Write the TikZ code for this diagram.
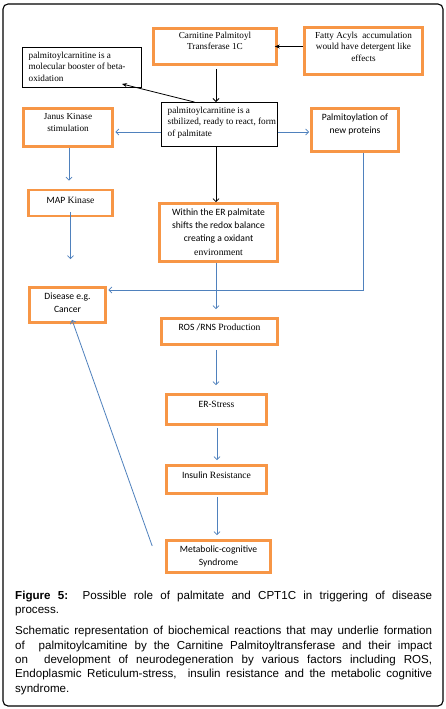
\documentclass[tikz,border=0pt]{standalone}
\usepackage{fontspec}
\setmainfont{Liberation Serif}
\newfontfamily\calibri{Carlito}
\newfontfamily\arialfont{Liberation Sans}
\usepackage{tikz}
\usetikzlibrary{arrows.meta}
\definecolor{boxorange}{HTML}{F79646}
\definecolor{arrowblue}{HTML}{4F81BD}

\begin{document}
\begin{tikzpicture}[x=1pt, y=-1pt,
		obox/.style={draw=boxorange, line width=2.6pt, inner sep=0pt},
		kbox/.style={draw=black, line width=0.9pt, inner sep=0pt},
		sertext/.style={inner sep=0pt, align=center, font=\fontsize{9.2}{11.5}\selectfont},
		caltext/.style={inner sep=0pt, align=center, font=\fontsize{9.6}{13.3}\selectfont\calibri},
		captext/.style={inner sep=0pt, anchor=west, font=\fontsize{11.6}{14.5}\selectfont\arialfont},
		blackarr/.style={black, line width=0.8pt, arrows={-{Stealth[length=5pt, width=4pt]}}},
		blackv/.style={black, line width=0.8pt, arrows={-{Straight Barb[length=3pt, width=6pt]}}},
		bluearr/.style={arrowblue, line width=0.8pt, arrows={-{Straight Barb[length=3pt, width=6pt]}}}]

		\useasboundingbox (0,0) rectangle (446,709);
		\fill[white] (0,0) rectangle (446,709);
		\draw[black, line width=1.1pt, rounded corners=5pt] (3,4) rectangle (443,706);

		%%% Boxes
		\node[obox, minimum width=123, minimum height=36] (cpt) at (215,46.5) {};
		\node[obox, minimum width=118, minimum height=47] (fatty) at (363.5,51) {};
		\node[kbox, minimum width=119, minimum height=40] (booster) at (82,67.5) {};
		\node[kbox, minimum width=116, minimum height=44] (stab) at (219.5,124.5) {};
		\node[obox, minimum width=89, minimum height=38] (janus) at (68,127.5) {};
		\node[obox, minimum width=87, minimum height=43] (palm) at (355,130) {};
		\node[obox, minimum width=84, minimum height=26] (map) at (70.5,203) {};
		\node[obox, minimum width=118, minimum height=58] (er) at (218.5,232.5) {};
		\node[obox, minimum width=76, minimum height=35] (disease) at (67.5,305) {};
		\node[obox, minimum width=116, minimum height=26] (ros) at (219.5,331.5) {};
		\node[obox, minimum width=100, minimum height=30] (ers) at (216.5,409.5) {};
		\node[obox, minimum width=100, minimum height=28] (ins) at (216.5,479.5) {};
		\node[obox, minimum width=104, minimum height=32] (meta) at (218.5,556.5) {};

		%%% Texts
		\node[sertext] (cpttext) at (215,41) {Carnitine Palmitoyl\\Transferase 1C};
		\node[sertext] (fattytext) at (363.5,46.5) {Fatty Acyls\ \ accumulation\\would have detergent like\\effects};
		\node[sertext, anchor=west, align=left] (boostertext) at (28.5,66.5) {palmitoylcarnitine is a\\molecular booster of beta-\\oxidation};
		\node[sertext, anchor=west, align=left] (stabtext) at (167.5,122.5) {palmitoylcarnitine is a\\stbilized, ready to react, form\\of palmitate};
		\node[sertext] (janustext) at (68,122.5) {Janus Kinase\\stimulation};
		\node[caltext] (palmtext) at (355,124.5) {Palmitoylation of\\new proteins};
		\node[caltext] (maptext) at (70.5,200) {MAP {\rmfamily Kinase}};
		\node[caltext] (ertext) at (218.5,232) {Within the ER palmitate\\shifts the redox balance\\creating a oxidant\\{\rmfamily environment}};
		\node[caltext] (diseasetext) at (67.5,303) {Disease e.g.\\Cancer};
		\node[caltext] (rostext) at (219.5,327) {ROS /RNS {\rmfamily Production}};
		\node[caltext] (erstext) at (216.5,404) {ER-{\rmfamily Stress}};
		\node[caltext] (instext) at (216.5,475) {Insulin {\rmfamily Resistance}};
		\node[caltext] (metatext) at (218.5,556.5) {Metabolic-cognitive\\Syndrome};

		%%% Black connectors
		\draw[blackarr] (fatty.west |- cpt.east) -- ([xshift=-3pt]cpt.east);
		\draw[blackarr] ([xshift=-25pt]stab.north) -- ([xshift=-20pt, yshift=4pt]booster.south east);
		\draw[blackv, shorten <=3pt] ([xshift=1pt]cpt.south) -- ([xshift=1pt]cpt.south |- stab.north);
		\draw[blackv] ([xshift=-3.5pt]stab.south) -- ([xshift=-3.5pt]stab.south |- er.north);

		%%% Blue connectors
		\draw[bluearr] ([yshift=-7.5pt]stab.west) -- ([yshift=-4.5pt, xshift=1.5pt]janus.east);
		\draw[bluearr] ([yshift=-7.5pt]stab.east) -- ([yshift=-2pt, xshift=-1pt]palm.west);
		\draw[bluearr, shorten >=8pt] ([xshift=1pt]janus.south) -- ([xshift=1pt]janus.south |- map.north);
		\draw[bluearr, shorten >=22pt] ([yshift=5pt]map.south) -- ([yshift=5pt]map.south |- disease.north);
		\draw[bluearr] ([xshift=8pt]palm.south) |- ([yshift=15pt, xshift=1.5pt]disease.east);
		\draw[bluearr, shorten >=8pt] ([xshift=-2.5pt]er.south) -- ([xshift=-2.5pt]er.south |- ros.north);
		\draw[bluearr, shorten <=4pt, shorten >=8pt] ([xshift=-3.5pt]ros.south) -- ([xshift=-3.5pt]ros.south |- ers.north);
		\draw[bluearr, shorten <=2pt, shorten >=4pt] ([xshift=0.5pt]ers.south) -- ([xshift=0.5pt]ers.south |- ins.north);
		\draw[bluearr, shorten <=2pt, shorten >=4pt] ([xshift=0.5pt]ins.south) -- ([xshift=0.5pt]ins.south |- meta.north);
		\draw[bluearr] ([xshift=-13pt, yshift=10.5pt]meta.west) -- ([xshift=4.5pt, yshift=4pt]disease.south);

		%%% Caption
		\node[captext] (title) at (15,597) {\makebox[417pt][s]{\textbf{Figure 5:}\ \ Possible role of palmitate and CPT1C in triggering of disease}};
		\node[captext] (title2) at (15,612) {process.};
		\node[captext] (body1) at (15,631) {\makebox[417pt][s]{Schematic representation of biochemical reactions that may underlie formation}};
		\node[captext] (body2) at (15,646) {\makebox[417pt][s]{of\ \ palmitoylcamitine by the Carnitine Palmitoyltransferase and their impact}};
		\node[captext] (body3) at (15,660) {\makebox[417pt][s]{on\ \ development of neurodegeneration by various factors including ROS,}};
		\node[captext] (body4) at (15,674) {\makebox[417pt][s]{Endoplasmic Reticulum-stress,\ \ insulin resistance and the metabolic cognitive}};
		\node[captext] (body5) at (15,689) {syndrome.};
\end{tikzpicture}
\end{document}
